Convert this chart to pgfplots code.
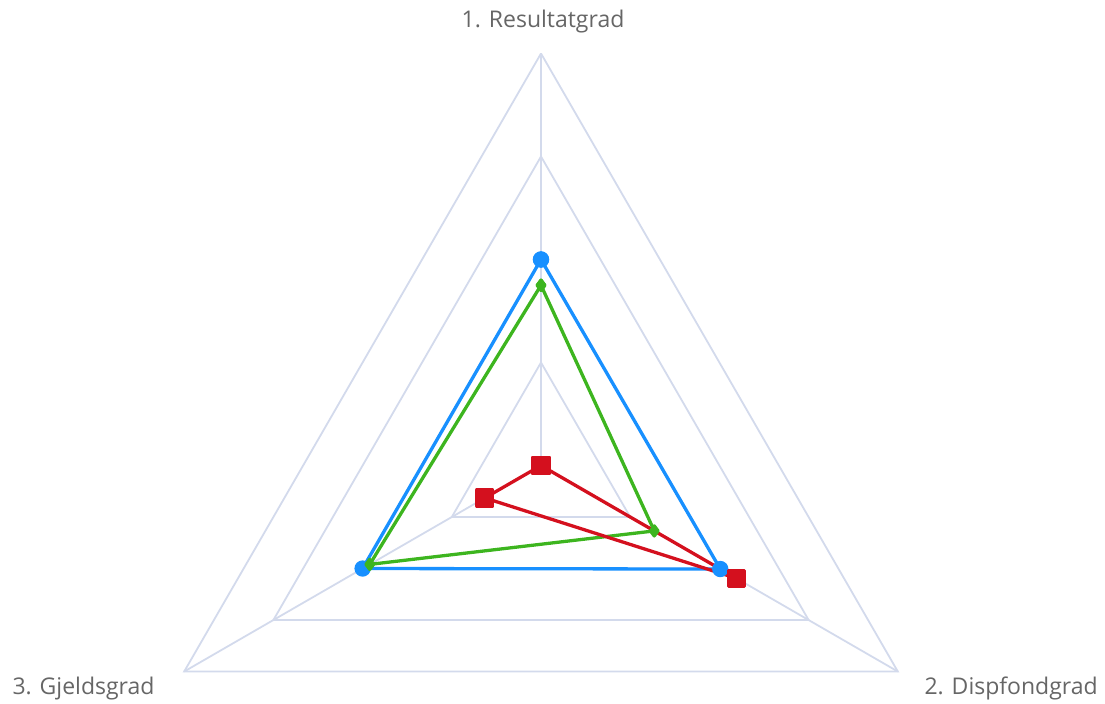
\documentclass[border=0pt]{standalone}
\usepackage{pgfplots}
\pgfplotsset{compat=1.18}
\usepackage{fontspec}
\setmainfont{Open Sans}
\definecolor{gridc}{HTML}{D3DAEC}
\definecolor{cblue}{HTML}{1890FF}
\definecolor{cgreen}{HTML}{3DB51F}
\definecolor{cred}{HTML}{D4101E}
\definecolor{labc}{HTML}{666666}
\begin{document}
\begin{tikzpicture}
\begin{axis}[
  scale only axis, width=1105pt, height=702pt,
  xmin=-5.2524, xmax=5.4757, ymin=-2.2961, ymax=4.5194,
  axis lines=none, ticks=none, clip=false,
]
\path (rel axis cs:0,0) rectangle (rel axis cs:1,1);
% grid triangles
\addplot[gridc, line width=1.8pt, data cs=polar] coordinates {(90,1)(-30,1)(210,1)(90,1)};
\addplot[gridc, line width=1.8pt, data cs=polar] coordinates {(90,2)(-30,2)(210,2)(90,2)};
\addplot[gridc, line width=1.8pt, data cs=polar] coordinates {(90,3)(-30,3)(210,3)(90,3)};
\addplot[gridc, line width=1.8pt, data cs=polar] coordinates {(90,4)(-30,4)(210,4)(90,4)};
% spokes
\addplot[gridc, line width=1.8pt, data cs=polar] coordinates {(90,0)(90,4)};
\addplot[gridc, line width=1.8pt, data cs=polar] coordinates {(-30,0)(-30,4)};
\addplot[gridc, line width=1.8pt, data cs=polar] coordinates {(210,0)(210,4)};
% series
\addplot[cblue, line width=3.3pt, line join=round, mark=*, mark size=6.5pt, data cs=polar]
  coordinates {(90,2.00)(-30,2.01)(210,2.00)(90,2.00)};
\addplot[cgreen, line width=3.3pt, line join=round, mark=diamond*, mark size=5pt, data cs=polar]
  coordinates {(90,1.75)(-30,1.27)(210,1.92)(90,1.75)};
\addplot[cred, line width=3.3pt, line join=round, mark=square*, mark size=8pt, data cs=polar]
  coordinates {(90,0.00)(-30,2.19)(210,0.63)(90,0.00)};
% labels
\node[text=labc, font=\fontsize{23}{26}\selectfont, anchor=base] at (axis cs:0.02,4.25) {1. Resultatgrad};
\node[text=labc, font=\fontsize{23}{26}\selectfont, anchor=base east] at (axis cs:-3.718,-2.22) {3. Gjeldsgrad};
\node[text=labc, font=\fontsize{23}{26}\selectfont, anchor=base west] at (axis cs:3.689,-2.22) {2. Dispfondgrad};
\end{axis}
\end{tikzpicture}
\end{document}
